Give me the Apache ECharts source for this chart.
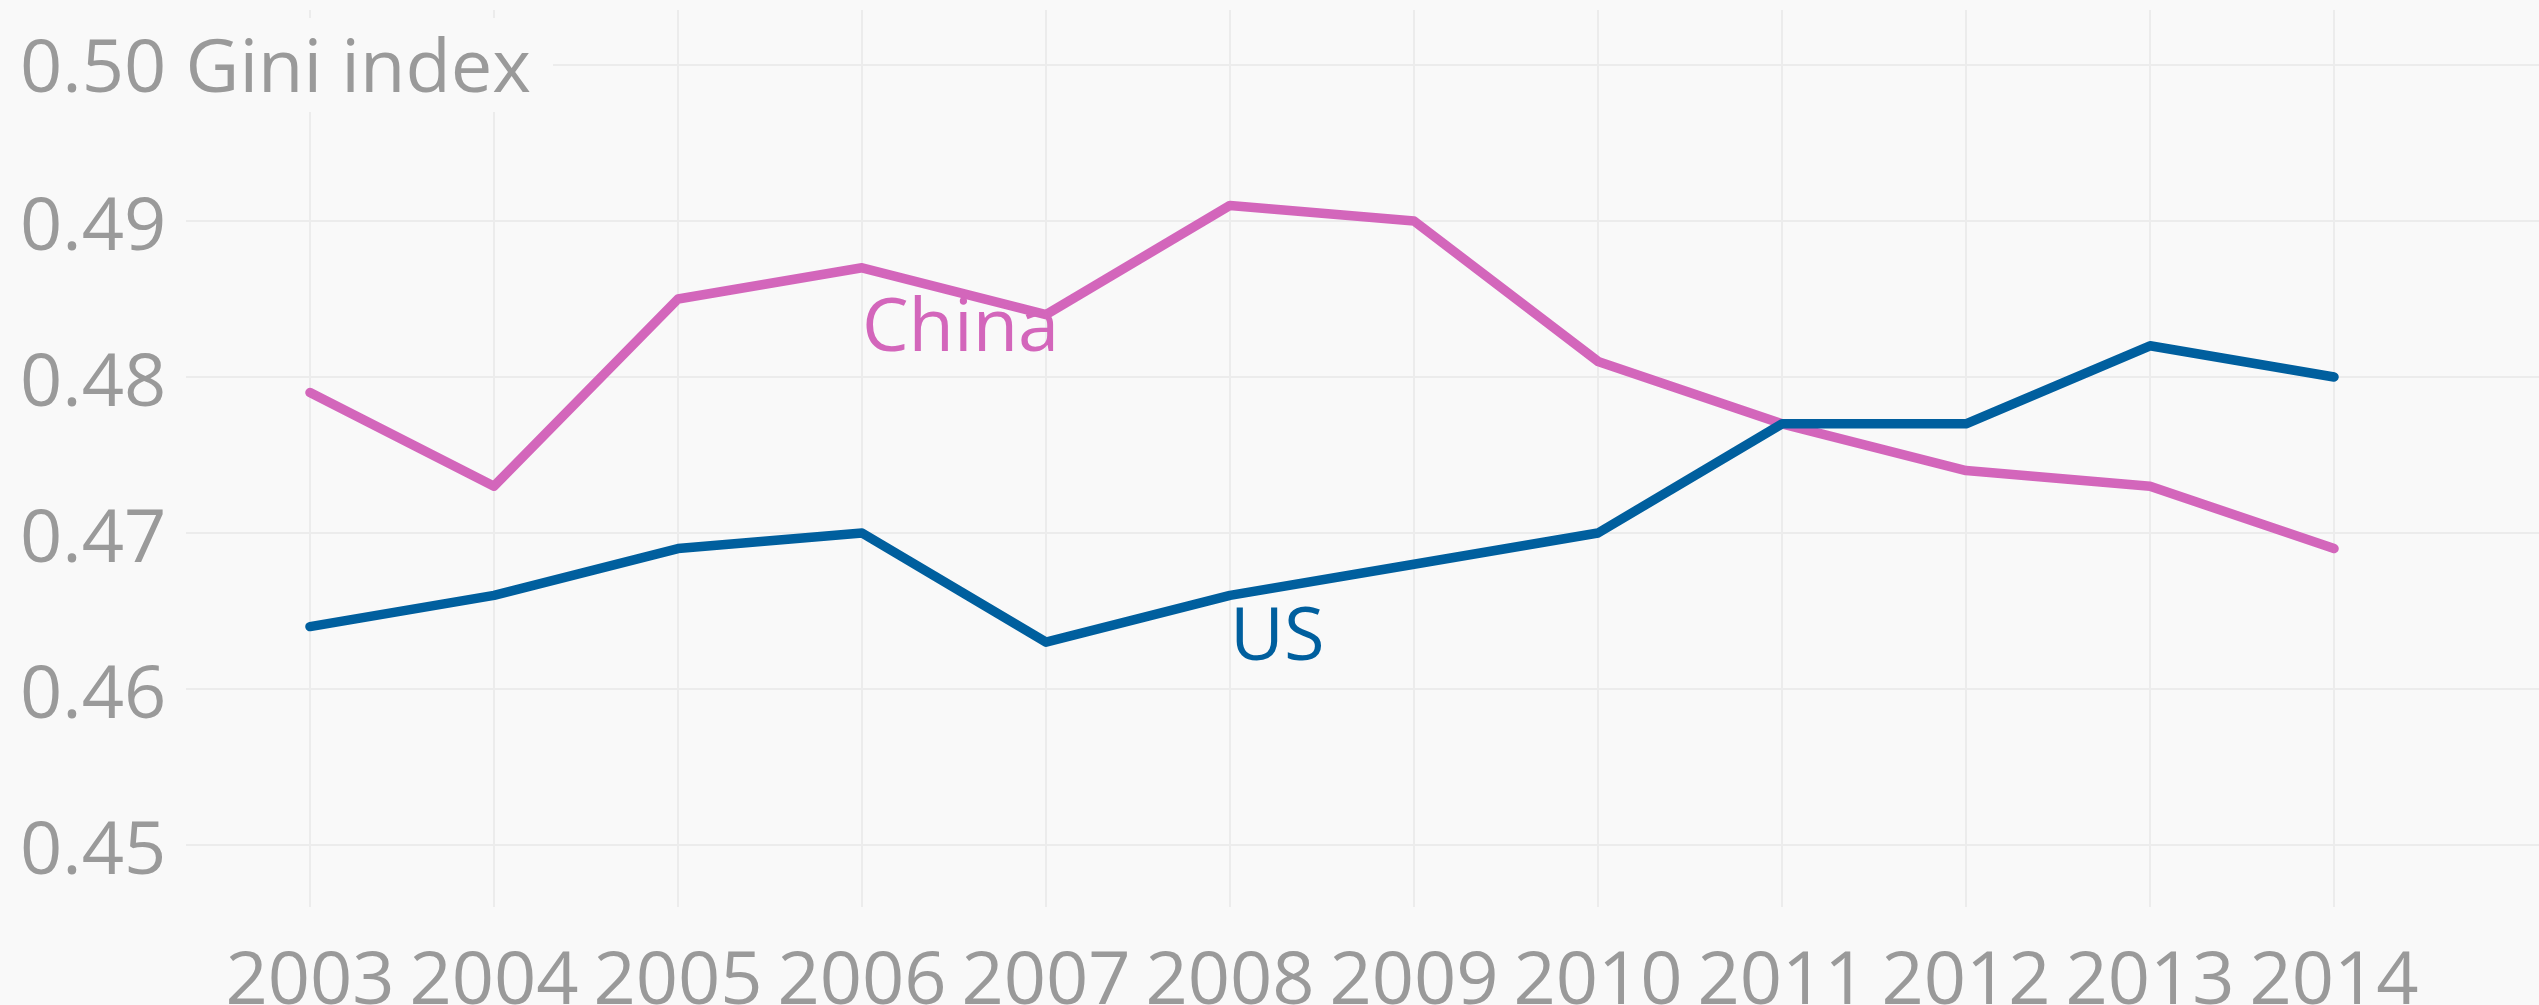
<!DOCTYPE html>
<html>
<head>
<meta charset="utf-8">
<script src="https://cdn.jsdelivr.net/npm/echarts@6/dist/echarts.min.js"></script>
<style>
html,body{margin:0;padding:0;background:#f9f9f9;}
#chart{width:2539px;height:1005px;}
</style>
</head>
<body>
<div id="chart"></div>
<script>
const years = ['2003','2004','2005','2006','2007','2008','2009','2010','2011','2012','2013','2014'];
const china = [0.479,0.473,0.485,0.487,0.484,0.491,0.490,0.481,0.477,0.474,0.473,0.469];
const us    = [0.464,0.466,0.469,0.470,0.463,0.466,0.468,0.470,0.477,0.477,0.482,0.480];
const yTicks = [0.45,0.46,0.47,0.48,0.49,0.50];
const yTitle = 'Gini index';
const chinaLabelYear = '2006';
const usLabelYear = '2008';

const FONT = '"Open Sans"';
const GRAY = '#9a9a9a';
const GRID = '#ececec';
const PINK = '#d366bb';
const BLUE = '#005f9e';
const FS = 74;

const chart = echarts.init(document.getElementById('chart'));
chart.setOption({
  backgroundColor: '#f9f9f9',
  animation: false,
  textStyle: {fontFamily: FONT},
  grid: [
    {left: 186, right: 0, top: 65, bottom: 160, containLabel: false, outerBoundsMode: 'none'},
    {left: 310, right: 205, top: 10, bottom: 98, containLabel: false, outerBoundsMode: 'none'},
    {left: 310, right: 205, top: 65, bottom: 160, containLabel: false, outerBoundsMode: 'none'}
  ],
  xAxis: [
    {gridIndex: 0, type: 'value', min: 0, max: 1, show: false},
    {gridIndex: 1, type: 'category', data: years, boundaryGap: false, z: 0,
     axisLine: {show: false}, axisTick: {show: false},
     splitLine: {show: true, interval: 0, lineStyle: {color: GRID, width: 2}},
     axisLabel: {interval: 0, color: GRAY, fontSize: FS, lineHeight: FS, margin: 39, fontFamily: FONT}},
    {gridIndex: 2, type: 'category', data: years, boundaryGap: false, show: false}
  ],
  yAxis: [
    {gridIndex: 0, type: 'value', min: yTicks[0], max: yTicks[yTicks.length-1], interval: 0.01, z: 0,
     axisLine: {show: false}, axisTick: {show: false}, axisLabel: {show: false},
     splitLine: {show: true, lineStyle: {color: GRID, width: 2}}},
    {gridIndex: 1, type: 'value', show: false},
    {gridIndex: 2, type: 'value', min: yTicks[0], max: yTicks[yTicks.length-1], interval: 0.01, z: 1,
     axisLine: {show: false}, axisTick: {show: false}, splitLine: {show: false},
     axisLabel: {
       margin: 310, align: 'left', color: GRAY, fontSize: FS, fontFamily: FONT,
       formatter: function (v) {
         const s = v.toFixed(2);
         if (Math.abs(v - yTicks[yTicks.length-1]) < 1e-9) return '{top|' + s + ' ' + yTitle + '}';
         return '{n|' + s + '}';
       },
       rich: {
         n: {color: GRAY, fontSize: FS, lineHeight: FS, fontFamily: FONT, padding: [16, 0, 0, 20]},
         top: {color: GRAY, fontSize: FS, lineHeight: FS, fontFamily: FONT,
               backgroundColor: '#f9f9f9', padding: [16, 22, 4, 20]}
       }
     }}
  ],
  series: [
    {name: 'China', type: 'line', xAxisIndex: 2, yAxisIndex: 2, data: china, z: 3,
     showSymbol: false, symbol: 'none', lineStyle: {color: PINK, width: 9.5, cap: 'round', join: 'round'}, itemStyle: {color: PINK},
     markPoint: {symbolSize: 0, silent: true,
       data: [{coord: [chinaLabelYear, china[years.indexOf(chinaLabelYear)]],
               label: {show: true, formatter: 'China', position: 'inside', align: 'left', verticalAlign: 'middle',
                       offset: [0, 62], color: PINK, fontSize: FS, fontFamily: FONT}}]}},
    {name: 'US', type: 'line', xAxisIndex: 2, yAxisIndex: 2, data: us, z: 3,
     showSymbol: false, symbol: 'none', lineStyle: {color: BLUE, width: 9.5, cap: 'round', join: 'round'}, itemStyle: {color: BLUE},
     markPoint: {symbolSize: 0, silent: true,
       data: [{coord: [usLabelYear, us[years.indexOf(usLabelYear)]],
               label: {show: true, formatter: 'US', position: 'inside', align: 'left', verticalAlign: 'middle',
                       offset: [0, 44], color: BLUE, fontSize: FS, fontFamily: FONT}}]}}
  ]
});
</script>
</body>
</html>
